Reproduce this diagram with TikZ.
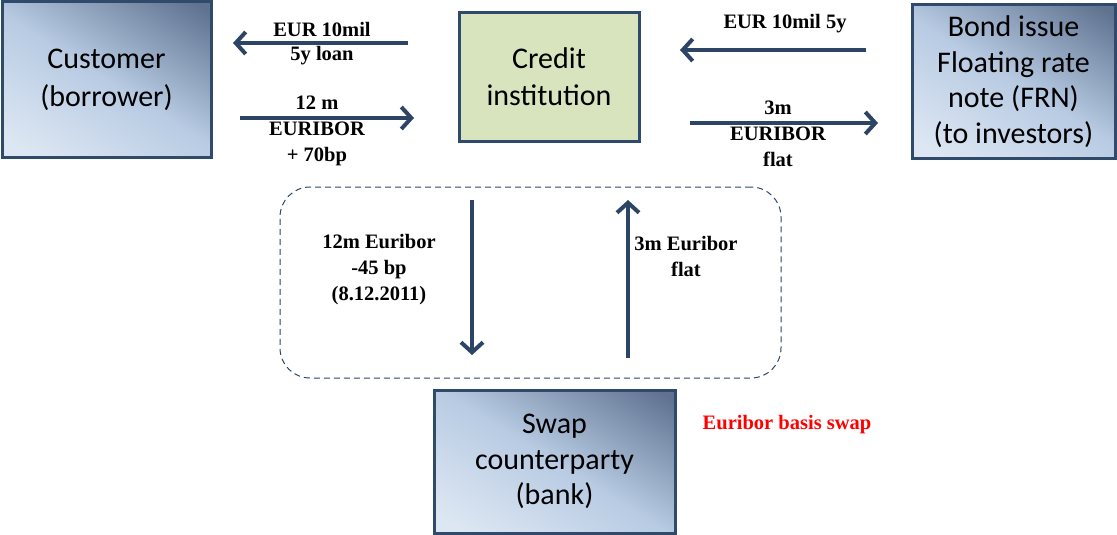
\documentclass[tikz,border=0pt]{standalone}
\usepackage{fontspec}
\setmainfont{Liberation Serif}
\newfontfamily\calfont{Carlito}
\usetikzlibrary{arrows.meta}
\definecolor{navy}{HTML}{2C4566}
\definecolor{boxline}{HTML}{2F4A6B}
\definecolor{shadelight}{HTML}{DDE7F3}
\definecolor{shademid}{HTML}{B8CBE3}
\definecolor{shadedark}{HTML}{5F7391}
\definecolor{greenfill}{HTML}{D7E4BD}
\pgfdeclarehorizontalshading{diagblue}{100bp}{color(0bp)=(shadelight); color(20bp)=(shadelight); color(50bp)=(shademid); color(82bp)=(shadedark); color(100bp)=(shadedark)}
\tikzset{
  bluebox/.style={draw=boxline, line width=3pt, shading=diagblue, shading angle=58, align=center, font=\calfont\fontsize{30}{37}\selectfont, inner sep=0pt},
  greenbox/.style={draw=boxline, line width=3pt, fill=greenfill, align=center, font=\calfont\fontsize{30}{37}\selectfont, inner sep=0pt},
  flow/.style={draw=navy, line width=4pt, -{Straight Barb[length=10pt,width=22pt,line width=4pt]}},
  lbl/.style={align=center, font=\bfseries\fontsize{20.5}{26}\selectfont, inner sep=0pt},
}
\begin{document}
\begin{tikzpicture}[x=1pt,y=-1pt]
\useasboundingbox (0,0) rectangle (1117,535);
\node[bluebox, minimum width=209pt, minimum height=155pt, font=\calfont\fontsize{30}{38}\selectfont] (cust) at (106.5,79.5) {Customer\\(borrower)};
\node[greenbox, minimum width=180pt, minimum height=128pt] (credit) at (549,77) {Credit\\institution};
\node[bluebox, minimum width=203pt, minimum height=153pt, font=\calfont\fontsize{30}{35.5}\selectfont] (bond) at (1013.5,81.5) {Bond issue\\Floating rate\\note (FRN)\\(to investors)};
\node[bluebox, minimum width=241pt, minimum height=143pt, font=\calfont\fontsize{30}{35.5}\selectfont] (swap) at (554.5,461.5) {Swap\\counterparty\\(bank)};
\node[draw=navy, line width=1pt, dash pattern=on 6pt off 4pt, rounded corners=30pt, minimum width=501pt, minimum height=191pt] (zone) at (530.5,282.5) {};

\coordinate (a1s) at (408,43);  \coordinate (a1e) at (233,43);
\coordinate (a2s) at (240,118); \coordinate (a2e) at (414,118);
\coordinate (a3s) at (866,50);  \coordinate (a3e) at (680,50);
\coordinate (a4s) at (690,123); \coordinate (a4e) at (878,123);
\coordinate (a5s) at (472,200); \coordinate (a5e) at (472,355);
\coordinate (a6s) at (628,358); \coordinate (a6e) at (628,200);
\draw[flow] (a1s) -- (a1e);
\draw[flow] (a2s) -- (a2e);
\draw[flow] (a3s) -- (a3e);
\draw[flow] (a4s) -- (a4e);
\draw[flow] (a5s) -- (a5e);
\draw[flow] (a6s) -- (a6e);

\node[lbl] (l1a) at (322,29) {EUR 10mil};
\node[lbl] (l1b) at (322,56) {5y loan};
\node[lbl] (l2) at (317,131) {12 m\\EURIBOR\\+ 70bp};
\node[lbl] (l3) at (785,24) {EUR 10mil 5y};
\node[lbl] (l4) at (778,134) {3m\\EURIBOR\\flat};
\node[lbl] (l5) at (379,270) {12m Euribor\\-45 bp\\(8.12.2011)};
\node[lbl] (l6) at (686,256) {3m Euribor\\flat};
\node[lbl, text=red] (l7) at (787,425) {Euribor basis swap};
\end{tikzpicture}
\end{document}
